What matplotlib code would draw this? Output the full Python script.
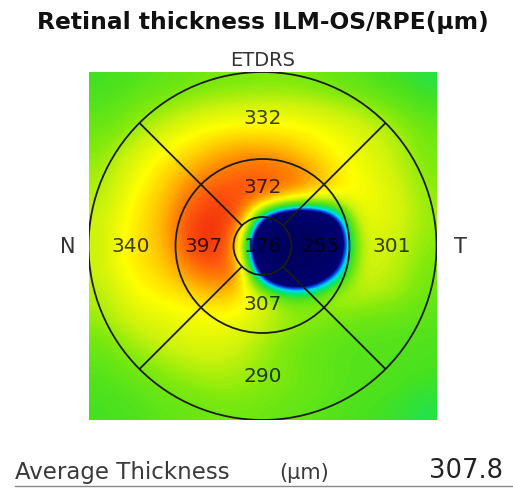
import numpy as np
import matplotlib.pyplot as plt
from matplotlib.colors import LinearSegmentedColormap
from matplotlib.patches import Circle

# -----------------------------
# data
# -----------------------------
title = "Retinal thickness ILM-OS/RPE(\u03bcm)"
grid_name = "ETDRS"

# ETDRS sector thickness (um); C and T1 are hidden under the dark blob
sector_names = ["C", "S1", "N1", "I1", "T1", "S2", "N2", "I2", "T2"]
sector_values = [176, 372, 397, 307, 255, 332, 340, 290, 301]
average_thickness = 307.8

# thickness map sampled on a 15 x 15 grid (top row first), um
thickness_map = [
    [284, 286, 289, 291, 294, 296, 297, 298, 298, 296, 293, 290, 286, 283, 280],
    [288, 292, 298, 303, 308, 312, 314, 315, 315, 313, 309, 305, 299, 292, 286],
    [294, 300, 308, 316, 322, 326, 328, 328, 327, 325, 321, 317, 311, 303, 294],
    [300, 310, 320, 327, 335, 345, 352, 352, 345, 335, 326, 320, 315, 307, 297],
    [305, 316, 326, 338, 352, 362, 370, 373, 370, 355, 335, 324, 318, 310, 300],
    [308, 320, 332, 345, 368, 382, 378, 362, 342, 330, 325, 324, 320, 314, 302],
    [312, 324, 335, 350, 385, 395, 370, 215, 140, 140, 205, 318, 318, 314, 303],
    [312, 325, 335, 348, 385, 395, 330, 140, 130, 130, 165, 310, 315, 310, 300],
    [312, 325, 332, 340, 360, 372, 362, 200, 130, 140, 225, 314, 313, 307, 297],
    [308, 318, 326, 330, 336, 345, 335, 316, 288, 288, 312, 310, 308, 303, 294],
    [304, 313, 318, 320, 322, 324, 322, 314, 306, 302, 298, 296, 294, 292, 290],
    [296, 304, 310, 315, 318, 318, 315, 306, 299, 294, 290, 289, 288, 288, 287],
    [290, 295, 301, 306, 310, 311, 308, 302, 297, 292, 290, 288, 288, 287, 286],
    [287, 289, 293, 297, 301, 303, 303, 300, 297, 293, 290, 288, 287, 285, 283],
    [284, 286, 288, 291, 293, 295, 295, 294, 292, 290, 288, 286, 284, 282, 279],
]

# -----------------------------
# colour scale (thickness -> colour)
# -----------------------------
vmin, vmax = 100, 400
stops = [
    (100, (0.00, 0.00, 0.35)),
    (242, (0.00, 0.00, 0.45)),
    (252, (0.00, 0.30, 0.95)),
    (262, (0.00, 0.85, 0.95)),
    (274, (0.00, 0.90, 0.45)),
    (285, (0.28, 0.88, 0.12)),
    (300, (0.52, 0.92, 0.05)),
    (312, (0.80, 0.95, 0.05)),
    (325, (1.00, 1.00, 0.00)),
    (340, (1.00, 0.78, 0.00)),
    (355, (1.00, 0.55, 0.00)),
    (372, (1.00, 0.35, 0.05)),
    (400, (0.93, 0.13, 0.05)),
]
cmap = LinearSegmentedColormap.from_list(
    "thickness", [((v - vmin) / (vmax - vmin), c) for v, c in stops])

W, H = 513, 489
fig = plt.figure(figsize=(W / 100, H / 100), dpi=100)
fig.patch.set_facecolor("white")

# map axes: 6 mm square, centred on the fovea
ax = fig.add_axes([88 / W, 1 - 421 / H, 349 / W, 348 / H])
ax.imshow(np.array(thickness_map), cmap=cmap, vmin=vmin, vmax=vmax,
          extent=[-3, 3, -3, 3], origin="upper", interpolation="bicubic")
ax.set_xlim(-3, 3)
ax.set_ylim(-3, 3)
ax.axis("off")

line_col = "#1c1c14"
for r in [0.5, 1.5, 3.0]:
    ax.add_patch(Circle((0, 0), r, fill=False, ec=line_col, lw=1.3))
for a in [45, 135, 225, 315]:
    t = np.deg2rad(a)
    ax.plot([0.5 * np.cos(t), 3 * np.cos(t)], [0.5 * np.sin(t), 3 * np.sin(t)],
            color=line_col, lw=1.3, solid_capstyle="butt")

# sector labels (N on the left, T on the right)
label_pos = {
    "C": (0, 0), "S1": (0, 1.02), "N1": (-1.02, 0), "I1": (0, -1.0), "T1": (1.0, 0),
    "S2": (0, 2.22), "N2": (-2.28, 0), "I2": (0, -2.23), "T2": (2.22, 0),
}
font = "DejaVu Sans"
for name, val in zip(sector_names, sector_values):
    x, y = label_pos[name]
    ax.text(x, y, str(val), ha="center", va="center", fontsize=14.5,
            family=font, color="black", alpha=0.75)

# titles and side letters
fig.text(263 / W, 1 - 23 / H, title, ha="center", va="center",
         fontsize=16.8, fontweight="bold", family=font, color="#111111")
fig.text(263 / W, 1 - 60 / H, grid_name, ha="center", va="center",
         fontsize=14, family=font, color="#333333")
fig.text(68 / W, 1 - 247 / H, "N", ha="center", va="center",
         fontsize=15, family=font, color="#333333")
fig.text(460 / W, 1 - 247 / H, "T", ha="center", va="center",
         fontsize=15, family=font, color="#333333")

# average thickness row
fig.text(15 / W, 1 - 473 / H, "Average Thickness", ha="left", va="center",
         fontsize=16.5, family=font, color="#3a3a3a")
fig.text(304 / W, 1 - 473 / H, "(\u03bcm)", ha="center", va="center",
         fontsize=15, family=font, color="#3a3a3a")
fig.text(503 / W, 1 - 471 / H, f"{average_thickness:.1f}", ha="right", va="center",
         fontsize=18.5, family=font, color="#222222")
fig.add_artist(plt.Line2D([15 / W, 1.0], [1 - 487 / H, 1 - 487 / H],
                          color="#888888", lw=1.0))

fig.savefig("out.png", dpi=100)
